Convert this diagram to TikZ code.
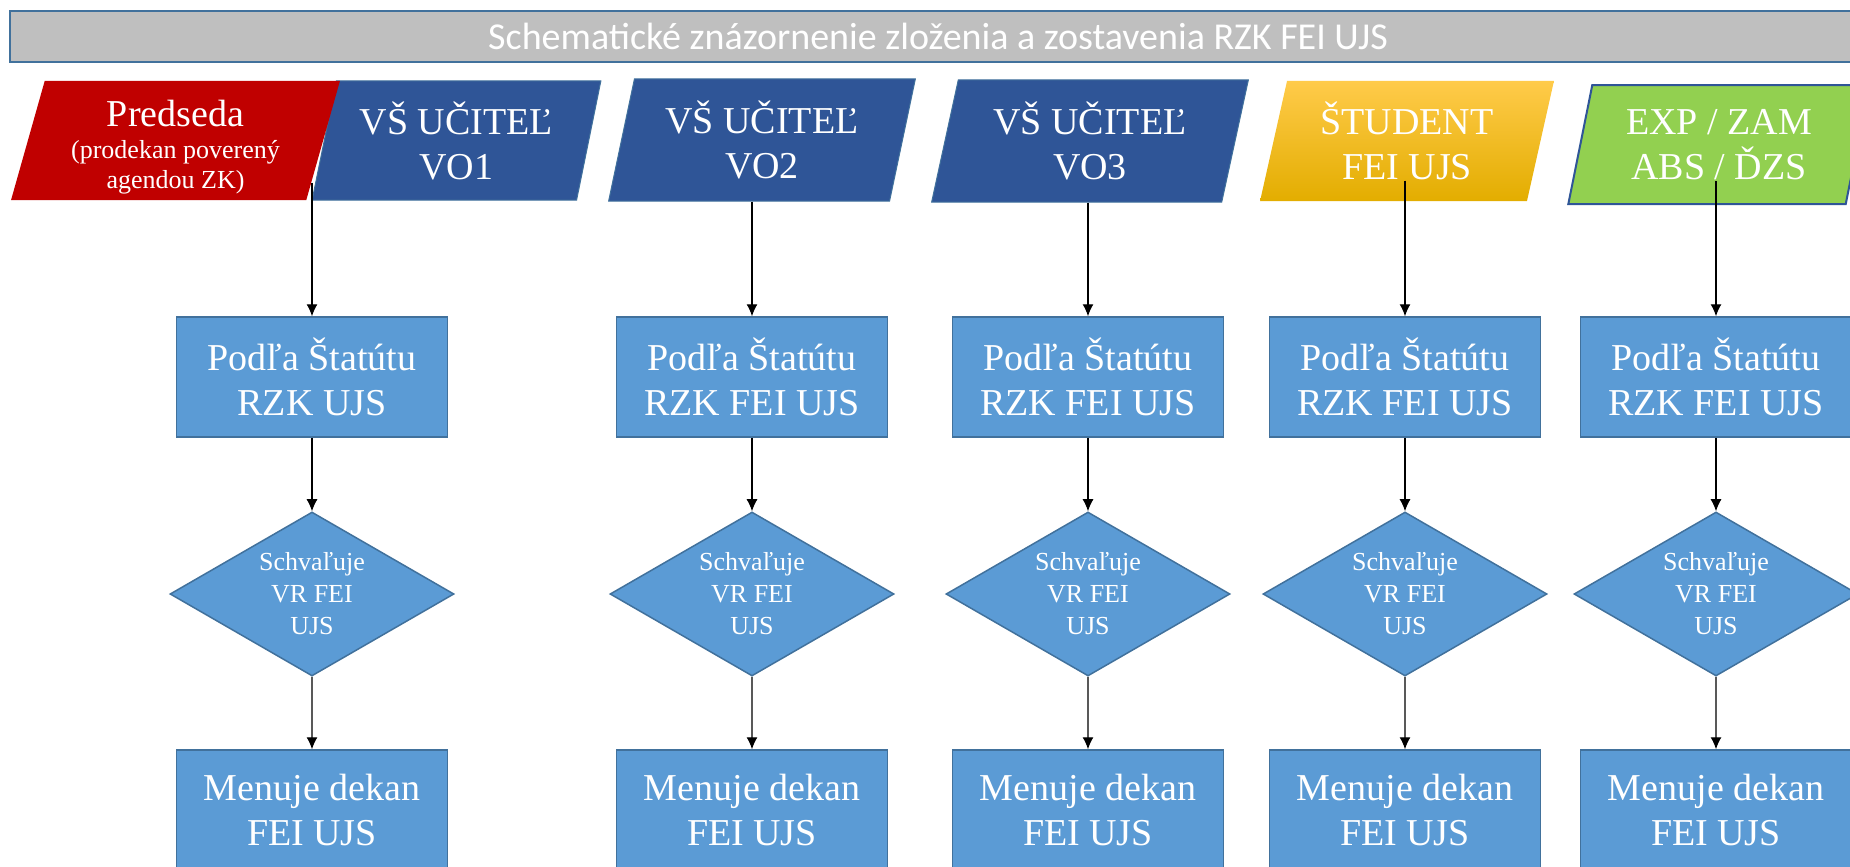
\documentclass[tikz,border=0pt]{standalone}
\usepackage{fontspec}
\setmainfont{Liberation Serif}
\newfontfamily\titlefont{Carlito}
\usetikzlibrary{shapes.geometric,arrows.meta}

\definecolor{titlegray}{HTML}{BFBFBF}
\definecolor{frameblue}{HTML}{41719C}
\definecolor{darkblue}{HTML}{2F5597}
\definecolor{lightblue}{HTML}{5B9BD5}
\definecolor{chairred}{HTML}{C00000}
\definecolor{studgold}{HTML}{FFC000}
\definecolor{studtop}{HTML}{FFCB4A}
\definecolor{studbot}{HTML}{E3AD00}
\definecolor{expgreen}{HTML}{92D050}
\newcommand{\smalltext}{\fontsize{26}{28}\selectfont}

\begin{document}
\begin{tikzpicture}[x=1pt,y=-1pt,
        level 1/.style={level distance=217pt},
        level 2/.style={level distance=216pt},
        every node/.style={text=white,align=center,inner sep=0pt},
        arr/.style={draw,black,line width=1.2pt,-{Latex[length=12pt,width=11pt]}},
        edge from parent/.style={arr},
        topbox/.style={trapezium,trapezium left angle=76,trapezium right angle=104,
            trapezium stretches=true,minimum height=120pt,draw=frameblue,line width=1pt,
            font=\fontsize{38}{45}\selectfont},
        podla/.style={rectangle,fill=lightblue,draw=frameblue,line width=1.5pt,
            minimum width=271pt,minimum height=120pt,font=\fontsize{38}{45}\selectfont},
        schval/.style={diamond,aspect=1.7,fill=lightblue,draw=frameblue,line width=1.5pt,
            minimum width=284pt,minimum height=164pt,font=\fontsize{26}{32}\selectfont},
        menuje/.style={podla}]
    \useasboundingbox (0,0) rectangle (1850,867);
    \clip (0,0) rectangle (1850,867);

    \node[rectangle,fill=titlegray,draw=frameblue,line width=1.5pt,
        minimum width=1856pt,minimum height=51pt,
        font=\titlefont\fontsize{38}{45}\selectfont] (title) at (938,36.5)
        {Schematické znázornenie zloženia a zostavenia RZK FEI UJS};

    % top row
    \node[topbox,fill=darkblue,minimum width=289pt,minimum height=119pt] (vo1) at (456.5,140.5) {VŠ UČITEĽ\\VO1};
    \node[topbox,fill=chairred,draw=none,minimum width=330pt,minimum height=119pt,
        font=\fontsize{38}{36}\selectfont] (pred) at (175.5,140.5)
        {\rule{0pt}{40pt}Predseda\\[-4pt]{\smalltext(prodekan poverený}\\[-6pt]{\smalltext agendou ZK)}};
    \node[topbox,fill=darkblue,minimum width=307pt,minimum height=122pt] (vo2) at (762,140) {VŠ UČITEĽ\\VO2};
    \node[topbox,fill=darkblue,minimum width=317pt,minimum height=122pt] (vo3) at (1090,141) {VŠ UČITEĽ\\VO3};
    \node[topbox,draw=none,top color=studtop,middle color=studgold,bottom color=studbot,
        minimum width=294pt] (stud) at (1407,141) {ŠTUDENT\\FEI UJS};
    \node[topbox,fill=expgreen,draw=darkblue,line width=2pt,minimum width=302pt,minimum height=119pt]
        (exp) at (1719,144.5) {EXP / ZAM\\ABS / ĎZS};

    % columns
    \node[podla] (pod1) at (312,377) {Podľa Štatútu\\RZK UJS}
        child {
            node[schval] (sch1) {Schvaľuje\\VR FEI\\UJS}
            child {
                node[menuje] (men1) {Menuje dekan\\FEI UJS}
            }
        };
    \node[podla] (pod2) at (752,377) {Podľa Štatútu\\RZK FEI UJS}
        child {
            node[schval] (sch2) {Schvaľuje\\VR FEI\\UJS}
            child {
                node[menuje] (men2) {Menuje dekan\\FEI UJS}
            }
        };
    \node[podla] (pod3) at (1088,377) {Podľa Štatútu\\RZK FEI UJS}
        child {
            node[schval] (sch3) {Schvaľuje\\VR FEI\\UJS}
            child {
                node[menuje] (men3) {Menuje dekan\\FEI UJS}
            }
        };
    \node[podla] (pod4) at (1405,377) {Podľa Štatútu\\RZK FEI UJS}
        child {
            node[schval] (sch4) {Schvaľuje\\VR FEI\\UJS}
            child {
                node[menuje] (men4) {Menuje dekan\\FEI UJS}
            }
        };
    \node[podla] (pod5) at (1716,377) {Podľa Štatútu\\RZK FEI UJS}
        child {
            node[schval] (sch5) {Schvaľuje\\VR FEI\\UJS}
            child {
                node[menuje] (men5) {Menuje dekan\\FEI UJS}
            }
        };

    % arrows from the top row
    \draw[arr] ([yshift=18pt]pod1.north |- pred.south) -- (pod1);
    \draw[arr] (pod2.north |- vo2.south) -- (pod2);
    \draw[arr] (pod3.north |- vo3.south) -- (pod3);
    \draw[arr] ([yshift=21pt]pod4.north |- stud.south) -- (pod4);
    \draw[arr] ([yshift=24pt]pod5.north |- exp.south) -- (pod5);
\end{tikzpicture}
\end{document}
